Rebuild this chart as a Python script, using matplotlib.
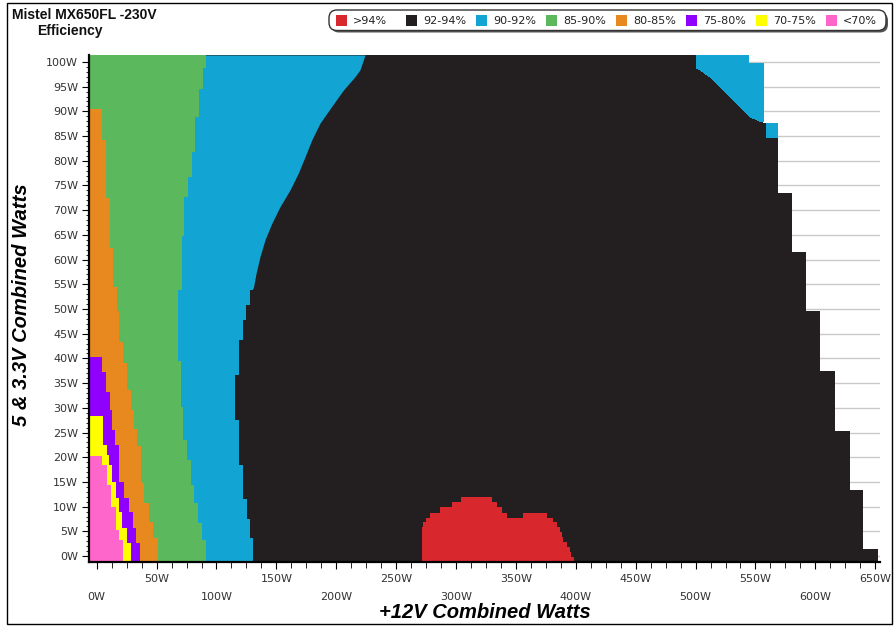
import numpy as np
import matplotlib
matplotlib.use("Agg")
import matplotlib.pyplot as plt
from matplotlib.patches import FancyBboxPatch, Rectangle, Polygon

# ---------------- data ----------------
title = "Mistel MX650FL -230V"
subtitle = "Efficiency"
xlabel = "+12V Combined Watts"
ylabel = "5 & 3.3V Combined Watts"

legend_labels = [">94%", "92-94%", "90-92%", "85-90%", "80-85%", "75-80%", "70-75%", "<70%"]
legend_colors = ["#d9272e", "#231f20", "#12a4d2", "#5bb85d", "#e8891f", "#8f00ff", "#ffff00", "#ff66cc"]

x_ticks = [0, 50, 100, 150, 200, 250, 300, 350, 400, 450, 500, 550, 600, 650]
x_ticklabels = ["0W", "50W", "100W", "150W", "200W", "250W", "300W", "350W",
                "400W", "450W", "500W", "550W", "600W", "650W"]
y_ticks = list(range(0, 101, 5))
y_ticklabels = [f"{v}W" for v in y_ticks]

X_MIN, X_MAX = -6.2, 654.0
Y_MIN, Y_MAX = -1.2, 101.4

# max load edge (right edge of black / blue), stepped; breaks bottom-up
maxload_breaks = [-1.2, 1.4, 13.4, 25.4, 37.5, 49.5, 61.5, 73.4, 87.6, 99.6, 101.4]
maxload_x = [652.4, 639.9, 628.8, 616.3, 604.0, 592.6, 580.6, 568.9, 556.4, 543.9]

# upper right 90-92% corner (outline), and small cell
corner_x = [500.8, 543.9, 543.9, 556.4, 556.4, 555.0, 545.3, 537.0, 528.6, 520.2, 511.9, 503.6, 500.8]
corner_y = [101.4, 101.4, 99.6, 99.6, 87.9, 87.9, 88.9, 91.0, 93.0, 95.0, 97.0, 98.4, 98.7]
cell_x = [559.0, 568.9]
cell_y = [84.6, 87.6]

# 90-92% / 92-94% boundary (left side), lower stepped part
blk_breaks = [-1.2, 3.6, 7.5, 11.5, 18.5, 27.6, 36.7, 43.7, 47.8, 50.8, 53.8, 55.9]
blk_x = [130.7, 128.0, 125.2, 121.9, 118.8, 115.4, 118.8, 121.9, 124.6, 128.0, 130.7]
# upper curved part
blk_curve_y = [54.2, 57.2, 60.6, 64.0, 67.3, 70.7, 74.1, 77.5, 80.8, 84.2, 87.6, 91.0, 94.3, 97.0, 98.4, 101.4]
blk_curve_x = [130.7, 133.0, 136.3, 140.5, 146.1, 153.0, 161.4, 168.3, 173.9, 179.5, 186.4, 196.2, 205.9, 215.6, 219.8, 224.0]

# 85-90% right edge
grn_breaks = [-1.2, 3.2, 6.6, 10.7, 14.4, 19.4, 23.5, 30.2, 39.5, 53.8, 64.8, 72.7, 76.8, 81.8, 88.9, 94.6, 98.7, 101.4]
grn_x = [91.2, 87.6, 84.8, 81.5, 78.7, 75.1, 72.3, 70.4, 68.0, 70.9, 73.1, 76.3, 79.3, 82.0, 85.7, 88.5, 91.2]

# 80-85% right edge
org_breaks = [-1.2, 3.6, 6.9, 10.7, 14.7, 22.3, 25.8, 29.6, 33.6, 39.0, 43.4, 49.5, 54.5, 62.3, 72.5, 84.2, 90.4]
org_x = [51.5, 46.7, 43.4, 39.8, 36.6, 33.4, 31.4, 28.6, 25.0, 22.0, 18.9, 16.7, 13.3, 11.1, 8.0, 4.7]

# 75-80% right edge
pur_breaks = [-1.2, 2.6, 5.6, 9.0, 11.7, 15.0, 22.5, 25.5, 29.6, 33.3, 37.3, 40.3]
pur_x = [36.4, 32.8, 30.0, 27.2, 23.0, 18.9, 15.5, 12.8, 11.1, 7.8, 4.2]

# 70-75% right edge
yel_breaks = [-1.2, 2.6, 5.6, 9.0, 11.7, 15.0, 18.4, 20.4, 22.5, 28.3]
yel_x = [28.6, 25.0, 21.5, 19.0, 16.0, 13.0, 10.5, 8.3, 5.0]

# <70% right edge
pnk_breaks = [-1.2, 3.2, 5.3, 10.0, 14.4, 18.4, 20.2]
pnk_x = [22.0, 19.0, 16.0, 12.0, 8.3, 4.5]

# >94% island
red_breaks = [-1.2, -0.27, 0.74, 1.75, 2.76, 3.78, 4.79, 5.8, 6.8, 7.8, 8.8, 10.0, 11.0, 12.0]
red_left = [271.3, 271.3, 271.3, 271.3, 271.3, 271.3, 271.3, 272.6, 274.9, 278.2, 286.6, 296.3, 304.1]
red_right = [398.4, 396.4, 395.0, 392.3, 389.5, 388.1, 386.7, 384.0, 381.1, 342.2, 338.1, 333.9, 329.7]
red2_breaks = [7.8, 8.8]
red2_left = [355.6]
red2_right = [375.6]

# ---------------- drawing ----------------
W, H = 896, 627
fig = plt.figure(figsize=(W / 100, H / 100), dpi=100)
fig.patch.set_facecolor("white")

ax_l, ax_r, ax_t, ax_b = 89.3, 880.0, 55.0, 562.0
ax = fig.add_axes([ax_l / W, 1 - ax_b / H, (ax_r - ax_l) / W, (ax_b - ax_t) / H])
ax.set_xlim(X_MIN, X_MAX)
ax.set_ylim(Y_MIN, Y_MAX)

c_red, c_blk, c_blu, c_grn, c_org, c_pur, c_yel, c_pnk = legend_colors


def stairs(breaks, lo, hi, color, z):
    b = np.asarray(breaks, float)
    lo_arr = np.broadcast_to(np.asarray(lo, float), (len(b) - 1,)) if np.ndim(lo) == 0 else np.asarray(lo, float)
    hi_arr = np.asarray(hi, float)
    ax.fill_betweenx(b, np.append(lo_arr, lo_arr[-1]), np.append(hi_arr, hi_arr[-1]),
                     step="post", color=color, lw=0, zorder=z, antialiased=False)


# grid lines behind
for v in y_ticks:
    ax.axhline(v, color="#c9c9c9", lw=1.0, zorder=0)

stairs(maxload_breaks, X_MIN, maxload_x, c_blk, 1)
ax.add_patch(Polygon(np.column_stack([corner_x, corner_y]), closed=True,
                     facecolor=c_blu, lw=0, zorder=2, antialiased=False))
ax.add_patch(Rectangle((cell_x[0], cell_y[0]), cell_x[1] - cell_x[0], cell_y[1] - cell_y[0],
                       facecolor=c_blu, lw=0, zorder=2))
stairs(red_breaks, red_left, red_right, c_red, 2)
stairs(red2_breaks, red2_left, red2_right, c_red, 2)
stairs(blk_breaks, X_MIN, blk_x, c_blu, 3)
ax.fill_betweenx(blk_curve_y, X_MIN, blk_curve_x, color=c_blu, lw=0, zorder=3)
stairs(grn_breaks, X_MIN, grn_x, c_grn, 4)
stairs(org_breaks, X_MIN, org_x, c_org, 5)
stairs(pur_breaks, X_MIN, pur_x, c_pur, 6)
stairs(yel_breaks, X_MIN, yel_x, c_yel, 7)
stairs(pnk_breaks, X_MIN, pnk_x, c_pnk, 8)

# spines / ticks
for s in ["top", "right"]:
    ax.spines[s].set_visible(False)
for s in ["left", "bottom"]:
    ax.spines[s].set_linewidth(1.6)
    ax.spines[s].set_color("black")
    ax.spines[s].set_zorder(10)

ax.set_yticks(y_ticks)
ax.set_yticklabels(y_ticklabels, fontsize=8, color="#333333", family="DejaVu Sans")
ax.set_yticks(np.arange(0, 101, 1), minor=True)
ax.tick_params(axis="y", which="major", direction="out", length=5, width=0.8, pad=3)
ax.tick_params(axis="y", which="minor", direction="out", length=2.5, width=0.6)

ax.set_xticks(x_ticks)
ax.set_xticklabels([])
ax.set_xticks(np.arange(0, 651, 12.5), minor=True)
ax.tick_params(axis="x", which="major", direction="out", length=5, width=0.8)
ax.tick_params(axis="x", which="minor", direction="out", length=4, width=0.6)
xt = ax.get_xaxis_transform()
for v, lab in zip(x_ticks, x_ticklabels):
    row = (579 - ax_b) if (v // 50) % 2 == 1 else (597 - ax_b)
    ax.text(v, -row / (ax_b - ax_t), lab, transform=xt, ha="center", va="center",
            fontsize=8, color="#333333", clip_on=False)

# overlay in pixel coordinates
ov = fig.add_axes([0, 0, 1, 1], zorder=20)
ov.set_xlim(0, W)
ov.set_ylim(H, 0)
ov.axis("off")
ov.patch.set_alpha(0)

ov.add_patch(Rectangle((7, 3), 885, 621, fill=False, edgecolor="black", lw=1.0))

ov.text(12, 15, title, fontsize=10, fontweight="bold", family="Liberation Sans", va="center", ha="left", color="#111111")
ov.text(37, 31, subtitle, fontsize=10, fontweight="bold", family="Liberation Sans", va="center", ha="left", color="#111111")

ov.text(485, 612, xlabel, fontsize=14.5, fontweight="bold", fontstyle="italic",
        family="Liberation Sans", ha="center", va="center")
ov.text(22, 305, ylabel, fontsize=14.5, fontweight="bold", fontstyle="italic",
        family="Liberation Sans", ha="center", va="center", rotation=90)

# legend
ov.add_patch(FancyBboxPatch((331, 12.5), 557, 20, boxstyle="round,pad=0,rounding_size=8",
                            facecolor="#555555", edgecolor="none"))
ov.add_patch(FancyBboxPatch((329, 10), 557, 20.5, boxstyle="round,pad=0,rounding_size=8",
                            facecolor="white", edgecolor="#333333", lw=1.0))
leg_x0 = 336
leg_dx = 70
for i, (lab, col) in enumerate(zip(legend_labels, legend_colors)):
    x0 = leg_x0 + i * leg_dx
    ov.add_patch(Rectangle((x0, 14.5), 11, 11, facecolor=col, edgecolor="none"))
    ov.text(x0 + 17, 20.5, lab, fontsize=8, va="center", ha="left", color="#222222",
            family="DejaVu Sans")

fig.savefig("out.png", dpi=100)
